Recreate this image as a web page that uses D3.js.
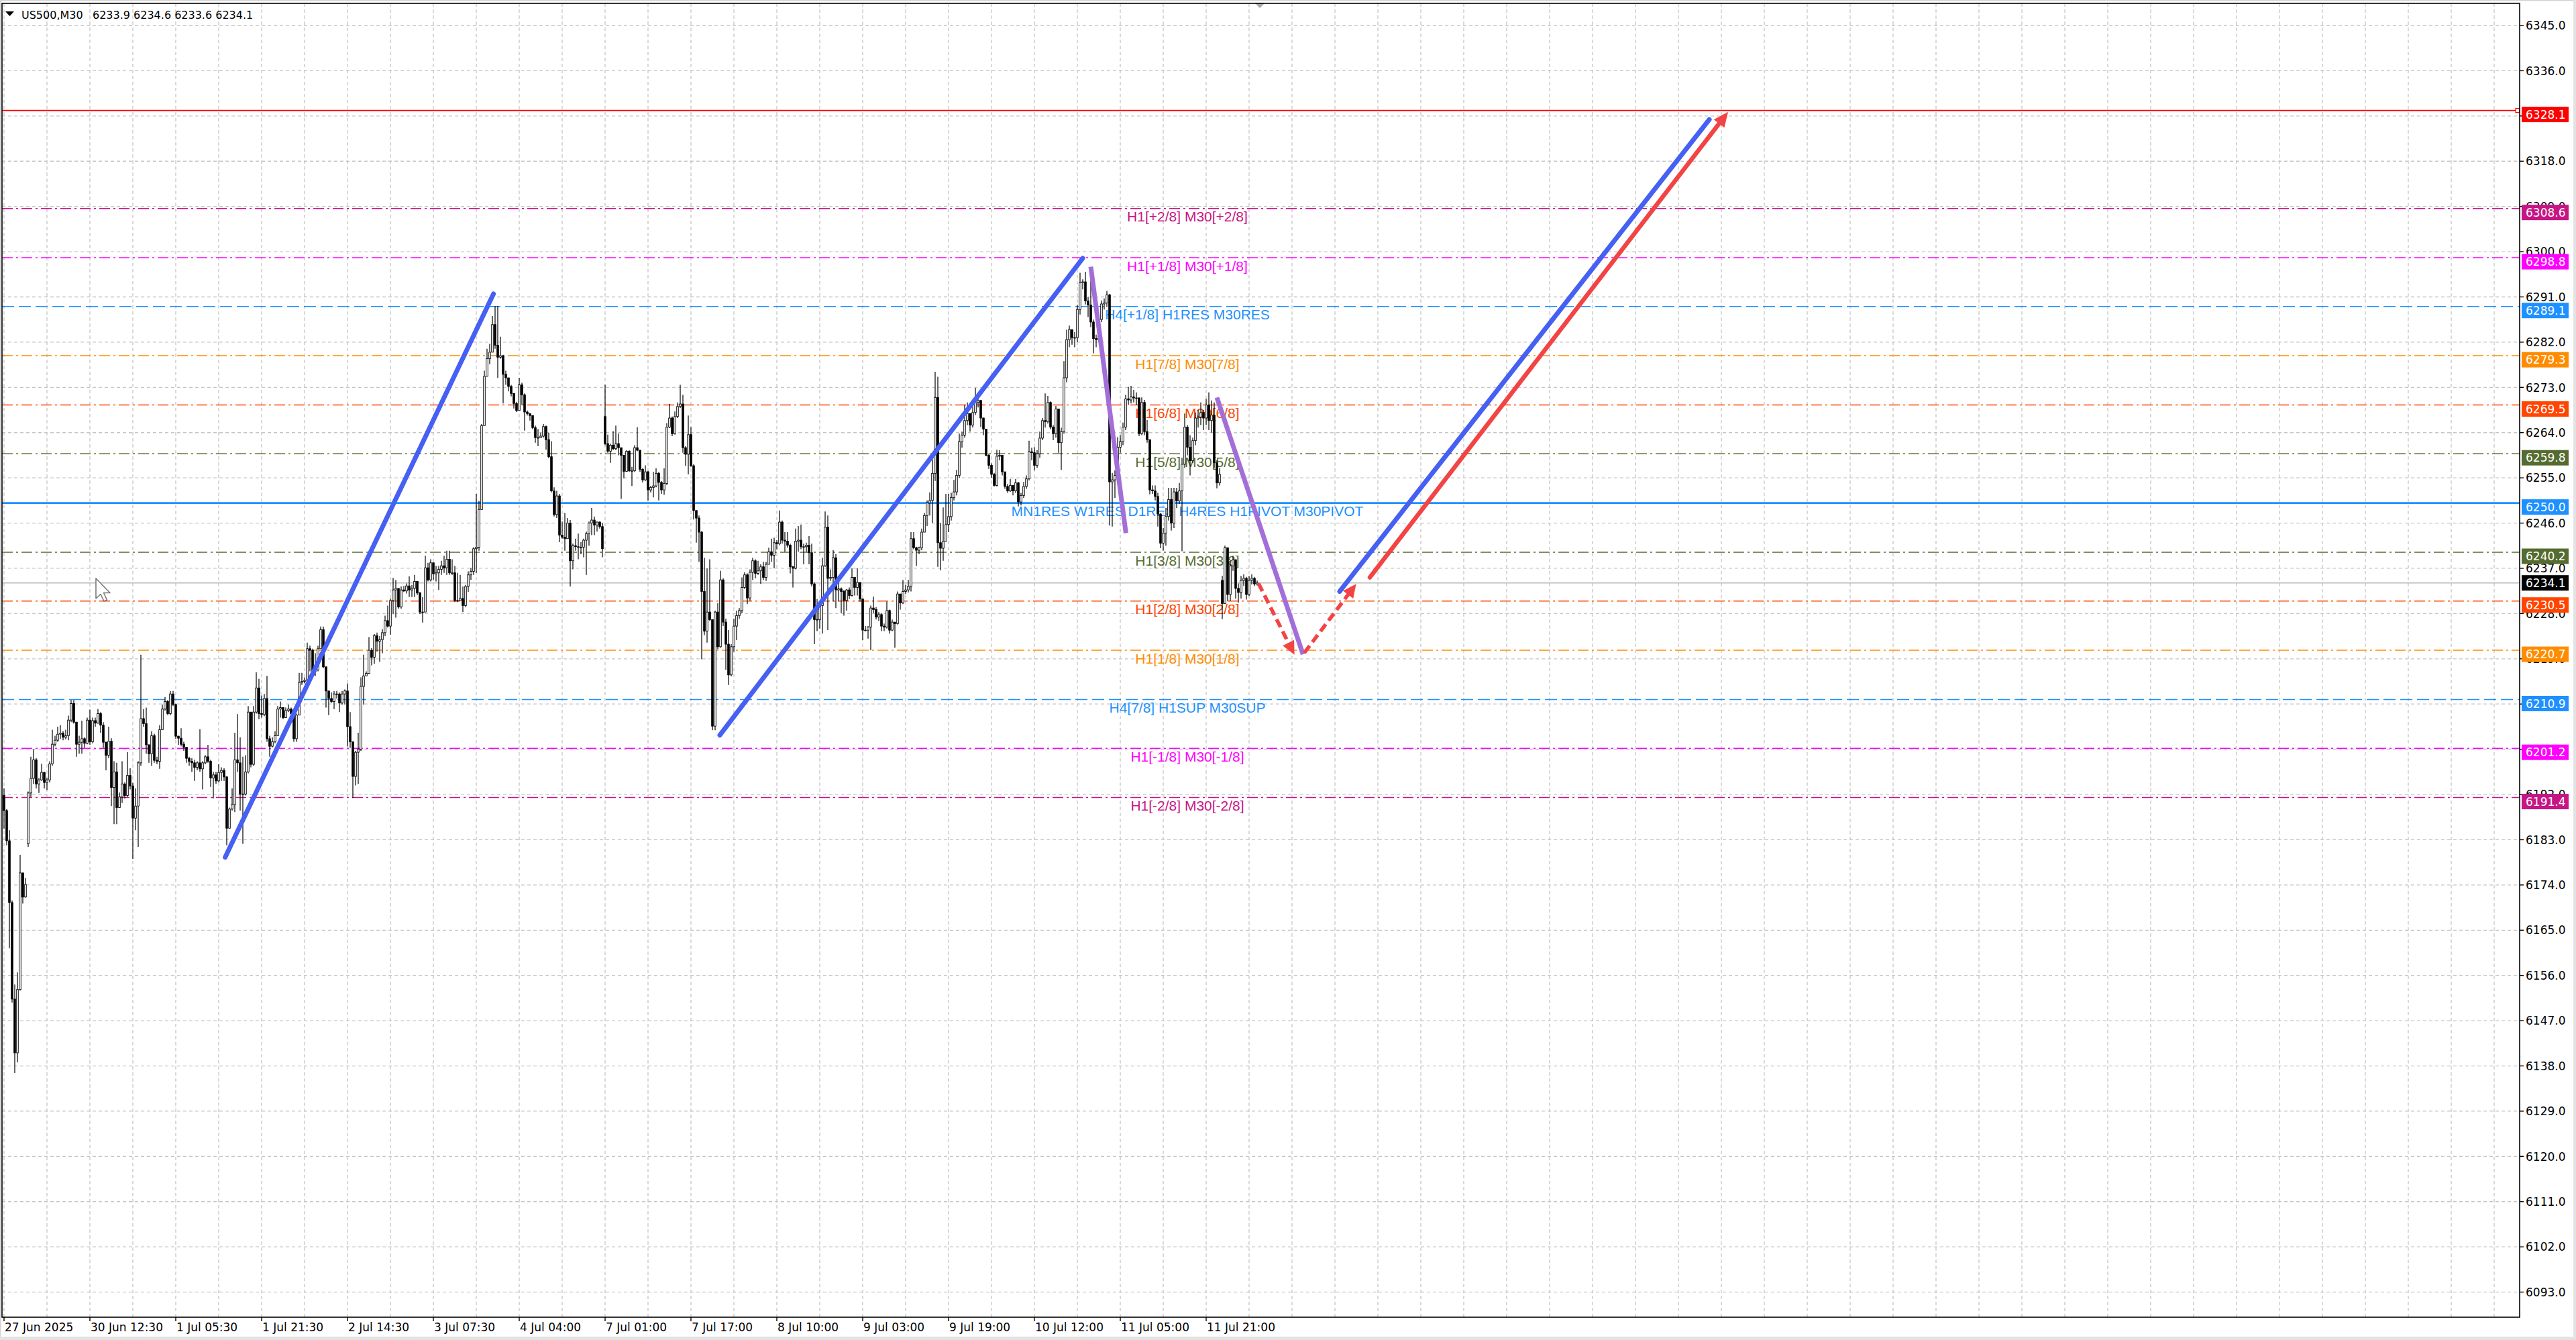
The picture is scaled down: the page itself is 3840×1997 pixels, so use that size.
<!DOCTYPE html>
<html><head><meta charset="utf-8">
<script src="https://cdn.jsdelivr.net/npm/d3@7/dist/d3.min.js"></script>
<style>html,body{margin:0;padding:0;background:#fff;overflow:hidden}</style>
</head><body>
<svg id="c" width="3840" height="1997"></svg>
<script>
// ---------------- DATA ----------------
const symbol = "US500,M30";
const closes = [
6188.8,6182.8,6170.5,6151.3,6140.6,6153.2,6176.4,6171.6,6174.1,6192.3,
6195.2,6198.9,6194.1,6194.9,6196.4,6194.4,6194.9,6198.1,6202.0,6202.8,
6204.0,6204.2,6203.4,6203.7,6206.8,6210.1,6206.4,6202.0,6202.4,6203.1,
6202.2,6206.8,6202.5,6206.7,6206.2,6208.1,6205.8,6202.4,6199.8,6202.6,
6193.4,6196.5,6189.4,6191.5,6194.1,6191.8,6195.8,6193.7,6187.3,6189.7,
6198.3,6207.1,6206.1,6201.9,6200.1,6203.7,6198.8,6198.6,6204.9,6209.0,
6210.5,6208.1,6212.0,6209.9,6203.6,6203.2,6202.0,6201.4,6199.2,6198.6,
6198.3,6197.4,6198.3,6197.1,6198.3,6199.5,6198.6,6195.3,6195.9,6194.7,
6196.4,6196.8,6195.5,6185.3,6189.1,6190.0,6198.9,6198.3,6192.1,6192.1,
6196.5,6208.4,6198.0,6208.4,6213.2,6208.1,6207.9,6211.1,6203.1,6201.6,
6202.5,6203.7,6209.0,6209.3,6207.3,6208.7,6209.0,6208.1,6203.1,6207.8,
6214.3,6214.5,6214.7,6221.0,6220.7,6216.5,6216.8,6221.0,6224.8,6217.4,
6212.6,6211.1,6210.5,6212.0,6212.0,6210.2,6212.0,6212.6,6205.5,6202.5,
6195.6,6200.4,6201.0,6213.5,6215.6,6216.1,6220.7,6219.3,6223.6,6222.5,
6222.8,6224.2,6226.6,6225.5,6230.6,6232.7,6233.0,6229.3,6232.7,6232.5,
6233.5,6232.7,6233.0,6234.4,6232.1,6228.3,6228.3,6237.1,6234.7,6238.1,
6235.9,6236.1,6236.8,6237.5,6237.1,6238.8,6236.1,6236.1,6230.6,6230.6,
6231.0,6229.6,6233.4,6235.7,6236.4,6240.9,6241.2,6248.7,6265.4,6275.2,
6278.7,6280.0,6285.5,6281.4,6279.0,6279.3,6275.6,6274.9,6273.2,6271.8,
6269.8,6268.4,6273.5,6271.5,6268.1,6267.8,6267.4,6265.0,6263.0,6263.0,
6263.3,6265.2,6262.6,6259.2,6252.4,6247.7,6251.4,6243.6,6243.2,6242.9,
6246.0,6238.5,6241.5,6241.3,6241.2,6241.2,6242.6,6243.9,6246.0,6246.6,
6245.6,6246.2,6245.3,6240.9,6261.8,6260.3,6261.5,6260.8,6261.8,6261.0,
6259.5,6256.3,6260.3,6256.4,6256.4,6261.0,6260.5,6256.7,6254.6,6256.2,
6252.6,6253.1,6253.4,6255.9,6254.1,6252.6,6253.9,6265.1,6266.9,6263.8,
6267.2,6269.2,6269.7,6261.0,6259.7,6263.6,6257.4,6248.5,6247.0,6244.2,
6232.4,6224.5,6228.3,6226.8,6205.6,6228.3,6221.4,6234.7,6226.3,6221.9,
6215.8,6221.4,6225.5,6227.6,6228.6,6233.2,6235.7,6231.1,6236.2,6238.5,
6236.0,6236.5,6237.3,6235.2,6237.8,6240.3,6239.6,6242.1,6241.9,6246.2,
6242.6,6242.4,6241.6,6237.3,6237.0,6242.4,6242.6,6241.3,6241.3,6241.6,
6240.1,6233.9,6226.8,6226.8,6229.6,6237.5,6245.2,6235.0,6235.2,6239.1,
6232.7,6232.9,6232.4,6230.6,6232.7,6231.6,6235.2,6233.2,6234.2,6230.9,
6224.7,6224.7,6225.3,6229.1,6228.8,6227.3,6227.8,6225.5,6225.3,6228.6,
6224.7,6226.3,6226.0,6231.9,6230.1,6232.4,6232.7,6233.4,6242.9,6241.1,
6240.6,6241.1,6244.2,6247.5,6250.0,6250.5,6255.9,6271.0,6242.1,6241.0,
6242.4,6245.7,6247.3,6251.1,6252.2,6255.5,6262.2,6263.5,6266.4,6267.8,
6265.5,6268.0,6270.0,6270.4,6266.9,6264.7,6259.5,6257.5,6255.7,6253.5,
6259.3,6259.5,6256.2,6253.3,6252.4,6253.5,6252.4,6254.0,6250.2,6251.5,
6253.3,6254.8,6260.2,6260.0,6257.5,6259.8,6262.9,6266.4,6266.2,6270.0,
6265.1,6263.8,6268.7,6262.0,6264.2,6274.9,6282.5,6284.5,6282.9,6282.9,
6288.5,6293.8,6294.0,6290.2,6289.4,6286.0,6282.7,6282.5,6286.5,6289.6,
6289.8,6291.4,6254.2,6254.6,6255.5,6261.1,6262.2,6265.1,6270.7,6270.5,
6271.1,6270.9,6270.9,6263.8,6270.0,6264.2,6262.6,6252.6,6252.4,6251.3,
6247.8,6242.0,6244.0,6247.3,6250.7,6246.0,6252.2,6250.4,6252.4,6257.7,
6265.1,6261.1,6258.4,6262.4,6266.9,6267.1,6268.0,6266.9,6269.5,6266.4,
6267.5,6258.0,6254.0,6255.7,6230.0,6241.1,6231.8,6237.5,6238.7,6233.0,
6232.2,6234.6,6235.0,6231.8,6234.6,6235.0,6233.9,6234.1
];
const highs = [
6193.2,6189.1,6184.9,6170.9,6154.2,6156.6,6180.0,6175.8,6175.4,6192.6,
6199.5,6201.0,6199.2,6195.3,6198.1,6196.5,6195.3,6198.6,6204.9,6203.7,
6205.5,6205.8,6204.6,6204.9,6207.7,6210.8,6210.8,6206.4,6203.7,6206.7,
6203.4,6207.3,6208.9,6207.3,6207.3,6209.0,6208.4,6206.4,6202.5,6205.5,
6203.2,6198.6,6198.3,6192.4,6198.6,6194.4,6200.4,6197.2,6194.3,6193.2,
6198.6,6219.8,6209.0,6209.3,6201.9,6204.6,6204.1,6199.5,6205.8,6209.9,
6211.4,6210.8,6212.6,6212.6,6210.1,6203.7,6205.2,6202.5,6201.4,6199.5,
6199.2,6198.9,6198.6,6205.0,6198.6,6199.8,6201.9,6198.9,6196.5,6196.5,
6198.0,6197.4,6197.2,6195.6,6189.4,6193.2,6204.3,6208.0,6203.4,6199.5,
6199.8,6209.6,6208.4,6209.6,6216.3,6215.0,6211.7,6212.0,6215.6,6203.7,
6203.4,6204.6,6209.6,6210.5,6208.7,6209.3,6209.9,6209.3,6208.7,6208.1,
6216.2,6216.2,6215.3,6222.2,6221.6,6221.0,6220.1,6221.6,6225.4,6225.4,
6217.4,6212.6,6212.3,6212.6,6212.6,6212.3,6212.6,6212.9,6214.1,6208.4,
6202.5,6200.7,6204.3,6215.3,6219.8,6216.5,6223.3,6221.1,6223.9,6224.2,
6223.5,6224.9,6227.6,6229.6,6231.0,6235.1,6234.7,6233.0,6233.4,6233.5,
6234.0,6235.4,6233.7,6235.7,6234.4,6232.3,6231.3,6239.5,6238.1,6238.8,
6238.1,6237.5,6237.5,6238.5,6239.5,6240.5,6240.5,6238.8,6237.5,6236.1,
6235.7,6233.4,6233.7,6236.4,6237.1,6241.2,6251.8,6250.4,6265.7,6276.3,
6280.7,6281.7,6287.2,6289.2,6289.2,6283.1,6279.5,6276.3,6274.9,6273.5,
6271.8,6270.1,6274.9,6273.9,6271.8,6268.4,6267.8,6267.4,6265.4,6264.7,
6264.0,6265.7,6265.4,6264.0,6262.3,6253.1,6252.4,6251.8,6246.3,6248.0,
6247.0,6246.6,6241.9,6242.9,6243.9,6242.2,6242.9,6244.3,6246.3,6249.0,
6247.3,6246.3,6246.3,6246.0,6273.5,6263.6,6261.8,6264.3,6265.4,6263.8,
6261.0,6259.2,6260.5,6260.5,6257.2,6261.5,6265.1,6260.5,6256.9,6257.5,
6256.4,6253.4,6256.2,6256.9,6256.2,6254.4,6256.9,6265.9,6269.7,6267.2,
6268.2,6270.0,6273.5,6271.5,6261.3,6267.4,6265.1,6257.7,6248.5,6247.5,
6244.4,6239.1,6237.0,6238.8,6226.8,6228.6,6230.1,6236.5,6235.0,6227.0,
6224.7,6221.9,6227.0,6228.6,6229.1,6235.2,6236.2,6236.0,6236.8,6239.1,
6238.8,6238.5,6237.8,6238.3,6238.3,6241.1,6242.9,6243.1,6242.6,6248.5,
6246.5,6244.2,6244.2,6241.9,6237.5,6244.9,6245.4,6245.7,6241.9,6242.1,
6243.4,6241.9,6234.2,6230.9,6230.1,6239.1,6248.3,6247.5,6236.8,6240.6,
6239.8,6234.7,6233.2,6232.7,6232.9,6233.2,6237.0,6234.5,6237.0,6234.2,
6230.6,6225.5,6225.5,6229.6,6231.4,6229.3,6228.3,6228.1,6226.0,6230.4,
6228.8,6226.8,6226.3,6232.4,6231.9,6234.7,6233.7,6234.7,6244.2,6244.2,
6241.3,6241.3,6244.9,6248.0,6250.5,6252.1,6258.7,6276.1,6275.1,6246.0,
6249.1,6251.8,6251.8,6252.0,6254.6,6256.6,6263.8,6264.2,6269.5,6270.0,
6267.8,6270.0,6272.9,6271.5,6270.2,6267.0,6264.7,6259.8,6257.9,6256.0,
6260.6,6260.5,6259.5,6255.5,6253.8,6254.8,6253.5,6254.8,6254.2,6252.0,
6254.2,6255.5,6262.4,6261.0,6261.1,6260.5,6264.2,6266.9,6271.8,6271.3,
6270.2,6265.5,6269.3,6268.0,6265.0,6278.2,6284.5,6285.3,6284.2,6284.0,
6289.4,6295.8,6294.5,6296.0,6291.0,6294.2,6286.5,6283.5,6287.5,6290.3,
6290.7,6292.2,6291.6,6256.0,6256.5,6263.1,6263.5,6266.0,6271.5,6273.1,
6273.3,6272.5,6272.0,6271.0,6271.0,6270.5,6266.5,6262.6,6253.5,6253.5,
6252.0,6248.0,6245.0,6249.0,6253.0,6253.0,6253.0,6253.0,6254.0,6259.0,
6267.8,6265.5,6263.5,6263.0,6268.0,6268.5,6270.0,6268.5,6270.7,6272.0,
6270.4,6270.0,6258.5,6256.9,6235.5,6241.5,6240.5,6238.5,6239.5,6238.8,
6234.0,6235.5,6235.8,6235.3,6235.5,6235.8,6235.3,6234.6
];
const lows = [
6185.2,6181.9,6161.4,6150.6,6136.6,6138.7,6153.0,6170.3,6171.5,6181.6,
6191.5,6194.1,6193.2,6192.3,6194.7,6193.2,6192.9,6194.4,6197.7,6201.6,
6202.5,6203.1,6202.8,6203.0,6202.8,6206.4,6206.1,6199.5,6200.1,6200.1,
6201.3,6202.0,6201.9,6202.2,6205.5,6206.1,6204.3,6201.3,6196.8,6199.2,
6189.7,6186.1,6186.1,6189.4,6190.3,6191.2,6191.5,6193.0,6179.2,6184.9,
6181.6,6197.7,6205.5,6200.1,6198.3,6197.7,6198.3,6198.0,6197.1,6204.9,
6208.7,6207.8,6207.8,6209.6,6203.1,6201.9,6201.6,6200.7,6198.3,6197.7,
6196.5,6194.7,6196.8,6196.5,6193.0,6198.0,6198.3,6193.5,6191.2,6194.1,
6194.4,6194.7,6194.7,6181.9,6185.2,6188.8,6188.5,6196.5,6188.8,6182.2,
6191.8,6196.2,6197.4,6197.7,6208.1,6207.0,6207.3,6207.6,6202.5,6199.5,
6201.4,6202.2,6203.7,6207.3,6207.0,6207.3,6208.4,6207.6,6202.5,6202.5,
6207.8,6213.8,6214.1,6214.3,6216.5,6215.9,6215.6,6216.5,6221.0,6217.1,
6209.3,6207.8,6210.2,6209.0,6211.1,6208.4,6209.9,6209.9,6201.6,6201.3,
6191.3,6193.8,6194.1,6200.7,6209.9,6215.6,6216.2,6217.7,6218.0,6220.4,
6218.4,6220.1,6223.5,6225.2,6223.8,6227.9,6227.2,6229.0,6229.0,6232.3,
6232.0,6231.3,6231.3,6231.3,6231.7,6227.9,6226.2,6230.3,6234.4,6234.4,
6234.7,6234.4,6232.7,6235.7,6236.1,6235.7,6235.7,6235.7,6230.3,6230.3,
6230.6,6228.3,6229.3,6232.3,6234.7,6235.7,6236.1,6240.5,6249.0,6265.7,
6275.2,6277.6,6280.0,6280.7,6274.9,6278.7,6269.8,6273.5,6272.2,6271.2,
6268.8,6268.1,6268.4,6269.5,6264.4,6267.4,6266.4,6264.7,6262.0,6261.3,
6263.0,6263.0,6260.6,6258.9,6252.1,6247.3,6247.0,6242.2,6242.9,6240.5,
6242.9,6233.4,6236.8,6240.5,6238.8,6239.8,6239.2,6235.7,6241.5,6243.6,
6243.6,6244.3,6244.9,6239.2,6261.5,6260.0,6258.0,6260.5,6260.5,6259.5,
6250.8,6254.9,6256.2,6256.2,6253.4,6256.2,6260.3,6256.2,6254.1,6254.4,
6250.5,6252.1,6251.1,6253.1,6250.5,6251.8,6251.6,6253.6,6264.9,6263.3,
6263.6,6266.9,6268.9,6260.0,6257.4,6255.7,6257.2,6246.7,6242.1,6238.3,
6218.9,6223.7,6222.2,6226.5,6204.8,6204.8,6220.9,6221.2,6225.5,6216.8,
6213.8,6215.5,6220.4,6222.7,6227.0,6228.1,6232.9,6229.9,6230.6,6234.7,
6235.0,6235.7,6233.9,6234.7,6234.5,6237.8,6238.3,6237.0,6240.8,6241.6,
6241.9,6240.3,6241.1,6236.0,6233.2,6236.8,6240.3,6240.8,6237.8,6240.3,
6237.8,6233.4,6221.9,6224.5,6225.0,6224.0,6237.3,6224.7,6234.5,6230.4,
6229.1,6230.4,6228.1,6227.6,6228.6,6230.9,6231.4,6231.6,6231.6,6230.4,
6222.7,6224.5,6223.0,6220.7,6228.1,6226.8,6226.5,6224.5,6224.5,6225.0,
6224.0,6224.5,6221.2,6225.8,6228.8,6229.9,6231.9,6232.2,6232.4,6240.8,
6237.5,6239.8,6240.6,6244.2,6245.4,6247.5,6246.0,6254.4,6237.3,6236.6,
6238.5,6244.6,6244.2,6246.5,6250.5,6251.5,6255.0,6261.0,6263.0,6265.5,
6264.2,6265.0,6267.5,6269.0,6265.1,6263.5,6259.3,6256.8,6255.0,6253.3,
6253.3,6258.5,6255.5,6252.8,6252.0,6252.2,6251.5,6252.0,6249.3,6249.5,
6251.0,6252.8,6254.5,6258.5,6256.5,6257.0,6259.0,6262.5,6265.0,6265.8,
6264.7,6262.5,6263.0,6260.0,6256.6,6263.8,6274.0,6281.0,6281.5,6281.0,
6282.0,6287.5,6292.5,6289.5,6287.0,6285.0,6279.8,6281.0,6282.0,6286.0,
6288.5,6289.0,6245.5,6245.3,6251.0,6255.0,6260.0,6261.5,6264.5,6269.5,
6269.8,6270.0,6269.5,6263.3,6263.5,6263.5,6262.0,6251.7,6251.8,6250.5,
6245.3,6241.0,6240.5,6241.5,6246.5,6244.5,6245.0,6249.0,6249.8,6240.4,
6257.0,6259.5,6255.5,6258.0,6261.5,6265.0,6265.5,6264.5,6265.5,6264.5,
6264.0,6257.0,6252.9,6253.5,6226.9,6230.2,6230.5,6230.5,6236.5,6231.0,
6230.2,6231.0,6233.5,6230.8,6231.5,6233.8,6233.5,6233.6
];
// opens at session starts (otherwise open = previous close)
const gapOpens = [[0, 6191.8], [9, 6182.2], [224, 6267.2], [454, 6234.6]];

const timeLabels = ["27 Jun 2025","30 Jun 12:30","1 Jul 05:30","1 Jul 21:30","2 Jul 14:30",
  "3 Jul 07:30","4 Jul 04:00","7 Jul 01:00","7 Jul 17:00","8 Jul 10:00","9 Jul 03:00",
  "9 Jul 19:00","10 Jul 12:00","11 Jul 05:00","11 Jul 21:00"];
const barsPerLabel = 32;
const priceTicks = d3.range(6093, 6346, 9);

const levelPrices = [6308.6, 6298.8, 6289.1, 6279.3, 6269.5, 6259.8, 6250.0, 6240.2, 6230.5, 6220.7, 6210.9, 6201.2, 6191.4];
const levelLabels = ["H1[+2/8] M30[+2/8]","H1[+1/8] M30[+1/8]","H4[+1/8] H1RES M30RES","H1[7/8] M30[7/8]",
  "H1[6/8] M30[6/8]","H1[5/8] M30[5/8]","MN1RES W1RES D1RES H4RES H1PIVOT M30PIVOT","H1[3/8] M30[3/8]",
  "H1[2/8] M30[2/8]","H1[1/8] M30[1/8]","H4[7/8] H1SUP M30SUP","H1[-1/8] M30[-1/8]","H1[-2/8] M30[-2/8]"];
const targetPrice = 6328.1;

// drawn objects: [barIndex1, price1, barIndex2, price2]
const blueLines = [[82.4, 6179.5, 182.4, 6291.6], [266.75, 6203.8, 402, 6298.7], [497.75, 6232.4, 635.5, 6326.3]];
const purpleLines = [[405, 6297.0, 418.1, 6244.0], [452, 6271.0, 484.1, 6219.9]];
const redArrow = [509, 6235.2, 642.5, 6327.8];
const redDashedArrows = [[467.5, 6234.0, 480.9, 6219.8], [484.6, 6220.2, 503.9, 6233.9]];

// ---------------- STYLE ----------------
const levelColors = ["#C71585","#FF00FF","#1E90FF","#FF8C00","#FF4500","#556B2F","#1E90FF","#556B2F","#FF4500","#FF8C00","#1E90FF","#FF00FF","#C71585"];
const levelDash = ["16,5,3,5","16,5,3,5","18,7","16,5,3,5","16,5,3,5","16,5,3,5",null,"16,5,3,5","16,5,3,5","16,5,3,5","18,7","16,5,3,5","16,5,3,5"];

const W = 3840, H = 1997;
const L = 3, R = 3756, T = 5, B = 1963;
const svg = d3.select("#c");
const x = d3.scaleLinear().domain([0, 937.5]).range([6, R]);
const y = d3.scaleLinear().domain([6093, 6345]).range([1925.6, 38]);
const axisFont = "'DejaVu Sans', Verdana, sans-serif";
const labelFont = "'Liberation Sans', Arial, sans-serif";

svg.append("rect").attr("width", W).attr("height", H).attr("fill", "#fff");
// window frame
svg.append("rect").attr("x", 0.75).attr("y", 0.75).attr("width", W - 1.5).attr("height", H - 1.5)
  .attr("fill", "none").attr("stroke", "#d4d4d4").attr("stroke-width", 1.5);
svg.append("rect").attr("x", W - 4).attr("y", 0).attr("width", 4).attr("height", H).attr("fill", "#e3e3e3");
svg.append("rect").attr("x", 0).attr("y", H - 5).attr("width", W).attr("height", 5).attr("fill", "#e3e3e3");

svg.append("defs").append("clipPath").attr("id", "plot")
  .append("rect").attr("x", L).attr("y", T).attr("width", R - L).attr("height", B - T);
const plot = svg.append("g").attr("clip-path", "url(#plot)");

// grid
const grid = plot.append("g").attr("stroke", "#c6c6c6").attr("stroke-width", 1.3).attr("stroke-dasharray", "5,4");
grid.selectAll(".hg").data(priceTicks).join("line")
  .attr("x1", L).attr("x2", R).attr("y1", d => y(d)).attr("y2", d => y(d));
const vgrid = d3.range(0, 937, 16);
grid.selectAll(".vg").data(vgrid).join("line")
  .attr("y1", T).attr("y2", B).attr("x1", d => x(d)).attr("x2", d => x(d));

// level lines
plot.append("g").selectAll("line").data(levelPrices).join("line")
  .attr("x1", L).attr("x2", R).attr("y1", d => y(d)).attr("y2", d => y(d))
  .attr("stroke", (d, i) => levelColors[i])
  .attr("stroke-width", (d, i) => levelDash[i] ? 1.5 : 2.6)
  .attr("stroke-dasharray", (d, i) => levelDash[i]);
// target line
plot.append("line").attr("x1", L).attr("x2", R).attr("y1", y(targetPrice)).attr("y2", y(targetPrice))
  .attr("stroke", "#FF0000").attr("stroke-width", 1.6);
plot.append("rect").attr("x", R - 6).attr("y", y(targetPrice) - 3).attr("width", 6).attr("height", 6)
  .attr("fill", "#fff").attr("stroke", "#FF0000").attr("stroke-width", 1.2);

// bars
const bars = closes.map((c, i) => {
  let o = i > 0 ? closes[i - 1] : c;
  const g = gapOpens.find(g => g[0] === i);
  if (g) o = g[1];
  return { i, o, c, h: Math.max(highs[i], o, c), l: Math.min(lows[i], o, c) };
});
const last = bars[bars.length - 1];
// bid line
plot.append("line").attr("x1", L).attr("x2", R).attr("y1", y(last.c)).attr("y2", y(last.c))
  .attr("stroke", "#b8b8b8").attr("stroke-width", 1.4);

// level labels
plot.append("g").selectAll("text").data(levelPrices).join("text")
  .attr("x", 1770).attr("y", d => y(d) + 19.5)
  .attr("text-anchor", "middle").attr("font-family", labelFont).attr("font-size", 21)
  .attr("fill", (d, i) => levelColors[i]).text((d, i) => levelLabels[i]);

// candles
const cg = plot.append("g");
cg.selectAll(".w").data(bars).join("line")
  .attr("x1", d => x(d.i)).attr("x2", d => x(d.i))
  .attr("y1", d => y(d.h)).attr("y2", d => y(d.l))
  .attr("stroke", "#000").attr("stroke-width", 1.2);
cg.selectAll(".b").data(bars).join("rect")
  .attr("x", d => x(d.i) - 1.3).attr("width", 2.6)
  .attr("y", d => y(Math.max(d.o, d.c)))
  .attr("height", d => Math.max(0.8, Math.abs(y(d.o) - y(d.c))))
  .attr("fill", d => d.c >= d.o ? "#fff" : "#000")
  .attr("stroke", "#000").attr("stroke-width", 0.9);

// drawn objects
function seg(d) { return [[x(d[0]), y(d[1])], [x(d[2]), y(d[3])]]; }
const og = plot.append("g");
og.selectAll(".pl").data(purpleLines).join("line")
  .attr("x1", d => x(d[0])).attr("y1", d => y(d[1])).attr("x2", d => x(d[2])).attr("y2", d => y(d[3]))
  .attr("stroke", "#A26FD9").attr("stroke-width", 7).attr("stroke-linecap", "butt");
og.selectAll(".bl").data(blueLines).join("line")
  .attr("x1", d => x(d[0])).attr("y1", d => y(d[1])).attr("x2", d => x(d[2])).attr("y2", d => y(d[3]))
  .attr("stroke", "#4560F2").attr("stroke-width", 7).attr("stroke-linecap", "round");

function arrow(d, color, width, dash, len, half) {
  const [[x1, y1], [x2, y2]] = seg(d);
  const dx = x2 - x1, dy = y2 - y1, n = Math.hypot(dx, dy);
  const ux = dx / n, uy = dy / n;
  const bx = x2 - ux * len, by = y2 - uy * len;
  og.append("line").attr("x1", x1).attr("y1", y1).attr("x2", bx + ux * 2).attr("y2", by + uy * 2)
    .attr("stroke", color).attr("stroke-width", width)
    .attr("stroke-dasharray", dash).attr("stroke-linecap", dash ? "butt" : "round");
  og.append("path")
    .attr("d", `M${x2},${y2}L${bx - uy * half},${by + ux * half}L${bx + uy * half},${by - ux * half}Z`)
    .attr("fill", color);
}
arrow(redArrow, "#F24444", 6.5, null, 22, 10);
redDashedArrows.forEach(d => arrow(d, "#F24444", 5.5, "13,7", 20, 9.5));

// top shift marker & cursor
svg.append("path").attr("d", "M1870,4L1886,4L1878,12Z").attr("fill", "#a8a8a8");
svg.append("path").attr("transform", "translate(143,862)")
  .attr("d", "M0,0L0,30L7,23.5L12,34L16.5,32L11.5,21.5L21,21.5Z")
  .attr("fill", "#fff").attr("stroke", "#7a7a7a").attr("stroke-width", 1.6).attr("stroke-linejoin", "round");

// plot border
svg.append("rect").attr("x", L).attr("y", T).attr("width", R - L).attr("height", B - T)
  .attr("fill", "none").attr("stroke", "#000").attr("stroke-width", 1.6);

// price boxes (level boxes sit slightly below their line, bid box is centred)
const boxPrices = [targetPrice, ...levelPrices, last.c];
const boxColors = ["#FF0000", ...levelColors, "#000000"];
const boxShift = boxPrices.map((p, i) => i === boxPrices.length - 1 ? 0 : 6);
const boxCenters = boxPrices.map((p, i) => y(p) + boxShift[i]);

// right axis (labels fully hidden behind a price box are not drawn)
const ra = svg.append("g");
ra.selectAll("line").data(priceTicks).join("line")
  .attr("x1", R).attr("x2", R + 6).attr("y1", d => y(d)).attr("y2", d => y(d))
  .attr("stroke", "#000").attr("stroke-width", 1.4);
const visibleTicks = priceTicks.filter(t => !boxCenters.some(c => Math.abs(c - y(t)) < 6));
ra.selectAll("text").data(visibleTicks).join("text")
  .attr("x", 3765).attr("y", d => y(d) + 6.2)
  .attr("font-family", axisFont).attr("font-size", 17).attr("fill", "#000")
  .text(d => d3.format(".1f")(d));

const bxg = svg.append("g");
boxPrices.forEach((p, i) => {
  const c = boxCenters[i];
  bxg.append("rect").attr("x", 3759).attr("y", c - 11.5).attr("width", 70).attr("height", 23)
    .attr("fill", boxColors[i]);
  bxg.append("text").attr("x", 3765).attr("y", c + 6.2)
    .attr("font-family", axisFont).attr("font-size", 17).attr("fill", "#fff")
    .text(d3.format(".1f")(p));
});

// bottom axis
const ba = svg.append("g");
ba.selectAll("line").data(timeLabels).join("line")
  .attr("x1", (d, k) => x(k * barsPerLabel)).attr("x2", (d, k) => x(k * barsPerLabel))
  .attr("y1", B).attr("y2", B + 6).attr("stroke", "#000").attr("stroke-width", 1.4);
ba.selectAll("text").data(timeLabels).join("text")
  .attr("x", (d, k) => x(k * barsPerLabel) + 1).attr("y", 1984)
  .attr("font-family", axisFont).attr("font-size", 17).attr("fill", "#000")
  .text(d => d);

// header
svg.append("path").attr("d", "M8,17L21,17L14.5,24Z").attr("fill", "#000");
svg.append("text").attr("x", 32).attr("y", 27.5).attr("font-family", axisFont).attr("font-size", 16)
  .attr("fill", "#000").text(symbol);
svg.append("text").attr("x", 138).attr("y", 27.5).attr("font-family", axisFont).attr("font-size", 16)
  .attr("fill", "#000").attr("xml:space", "preserve")
  .text([last.o, last.h, last.l, last.c].map(d3.format(".1f")).join(" "));
</script>
</body></html>
